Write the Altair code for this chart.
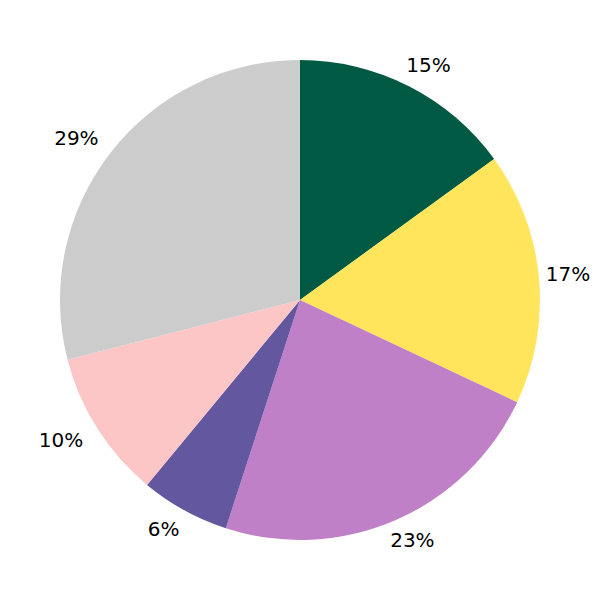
import altair as alt
import pandas as pd

labels = ["15%", "17%", "23%", "6%", "10%", "29%"]
values = [15, 17, 23, 6, 10, 29]
colors = ["#005a43", "#ffe55c", "#bf80c8", "#6357a0", "#fdc6c6", "#cccccc"]
order = [0, 1, 2, 3, 4, 5]

df = pd.DataFrame({"label": labels, "value": values, "order": order, "color": colors})

pie = alt.Chart(df).mark_arc(radius=240, stroke=None).encode(
    theta=alt.Theta("value:Q", stack=True),
    order=alt.Order("order:Q"),
    color=alt.Color("color:N", scale=None, legend=None),
)

text = (
    alt.Chart(df)
    .transform_joinaggregate(total="sum(value)")
    .transform_window(cum="sum(value)", sort=[alt.SortField("order")], frame=[None, 0])
    .transform_calculate(mid="2*PI*(datum.cum - datum.value/2)/datum.total")
    .transform_calculate(
        lx="clamp(283*sin(datum.mid), -268, 268)", ly="263*cos(datum.mid)"
    )
    .mark_text(fontSize=20, font="DejaVu Sans", color="black", baseline="middle", align="center")
    .encode(
        x=alt.X("lx:Q", scale=alt.Scale(domain=[-292, 292], nice=False, zero=False), axis=None),
        y=alt.Y("ly:Q", scale=alt.Scale(domain=[-292, 292], nice=False, zero=False), axis=None),
        text="label:N",
    )
)

chart = (
    alt.layer(pie, text)
    .properties(width=584, height=584, padding=0, autosize="none")
    .configure_view(stroke=None)
)

chart.save("out.html", embed_options={"renderer": "svg", "actions": False})
